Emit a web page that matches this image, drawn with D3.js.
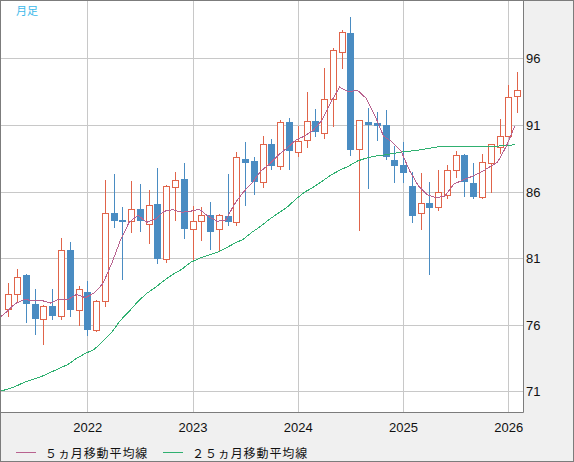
<!DOCTYPE html>
<html>
<head>
<meta charset="utf-8">
<script src="https://cdn.jsdelivr.net/npm/d3@7"></script>
<style>
  body { margin: 0; background: #f0f0f0; }
  svg { display: block; }
</style>
</head>
<body>
<div id="chart"></div>
<script>
// months from 2021-03 to 2026-02 (first one only feeds the moving averages)
var months = [
  "2021-03","2021-04","2021-05","2021-06","2021-07","2021-08","2021-09","2021-10","2021-11","2021-12",
  "2022-01","2022-02","2022-03","2022-04","2022-05","2022-06","2022-07","2022-08","2022-09","2022-10","2022-11","2022-12",
  "2023-01","2023-02","2023-03","2023-04","2023-05","2023-06","2023-07","2023-08","2023-09","2023-10","2023-11","2023-12",
  "2024-01","2024-02","2024-03","2024-04","2024-05","2024-06","2024-07","2024-08","2024-09","2024-10","2024-11","2024-12",
  "2025-01","2025-02","2025-03","2025-04","2025-05","2025-06","2025-07","2025-08","2025-09","2025-10","2025-11","2025-12",
  "2026-01","2026-02"
];

var open = [null,
  77.17, 78.33, 79.71, 77.58, 76.42, 77.43, 76.68, 81.64, 77.13,
  78.43, 75.62, 77.78, 84.39, 83.84, 83.77, 84.67, 83.59, 85.04, 80.93, 86.35, 86.92,
  83.22, 83.77, 84.2, 83.22, 84.14, 83.71, 88.43, 88.28, 86.75, 89.56, 87.92, 91.19,
  88.98, 89.86, 91.26, 90.36, 92.92, 96.45, 97.92, 89.16, 91.21, 91.14, 91.02, 88.35,
  87.98, 86.4, 84.35, 85.1, 84.8, 85.77, 87.65, 88.73, 86.62, 85.59, 88.11, 89.35,
  90.14, 93.14];
var high = [null,
  79.13, 80.16, 79.83, 78.71, 77.5, 78.65, 82.49, 82.19, 78.88,
  79.26, 77.85, 86.85, 87.3, 84.84, 86.8, 86.55, 86.15, 87.8, 86.47, 87.43, 88.11,
  84.92, 84.84, 85.2, 84.3, 87.3, 88.93, 89.71, 88.6, 90.16, 89.93, 91.36, 91.51,
  90.9, 93.49, 92.21, 95.25, 96.8, 98.13, 99.08, 91.4, 92.29, 91.98, 92.11, 89.41,
  89.68, 87.47, 87.4, 86.72, 87.65, 87.98, 89.05, 88.78, 88.11, 88.8, 89.6, 91.41,
  93.99, 94.99];
var low = [null,
  76.57, 77.62, 76.12, 75.25, 74.47, 76.32, 76.38, 76.57, 75.92,
  75.14, 75.44, 77.32, 83.26, 79.33, 82.89, 82.96, 82.09, 80.59, 80.63, 83.79, 82.41,
  80.89, 82.29, 81.59, 81.44, 83.39, 83.41, 84.92, 85.72, 86.27, 87.6, 87.6, 87.6,
  88.6, 89.23, 90.11, 89.91, 90.81, 95.22, 88.65, 83.04, 86.17, 89.8, 88.35, 86.65,
  86.65, 83.64, 83.14, 79.76, 84.54, 85.4, 86.98, 85.55, 85.4, 85.4, 85.85, 88.8,
  90.1, 91.86];
var close = [null,
  78.28, 79.58, 77.58, 76.42, 77.43, 76.62, 81.64, 77.13, 78.71,
  75.62, 77.8, 84.35, 83.79, 83.71, 84.65, 83.79, 85.02, 80.93, 86.38, 86.9, 83.19,
  83.77, 84.2, 82.96, 84.24, 83.74, 88.56, 88.15, 86.72, 89.53, 87.92, 91.19, 89.05,
  89.8, 91.26, 90.48, 92.92, 96.6, 97.95, 89.11, 91.36, 90.98, 90.89, 88.6, 87.92,
  87.4, 84.17, 85.1, 84.77, 85.95, 87.65, 88.71, 86.68, 85.59, 88.18, 89.53, 90.14,
  93.11, 93.62];

// ５ヵ月移動平均線
var ma5 = [76.4,
  76.95, 77.58, 77.88, 77.83, 77.83, 77.62, 77.92, 77.88, 78.28,
  78.03, 78.37, 79.08, 80.58, 82.34, 83.69, 84.22, 83.69, 83.92, 84.52, 84.63, 84.44,
  84.52, 84.67, 84.14, 83.77, 83.84, 85.04, 85.95, 86.62, 87.53, 88.05, 88.73, 89.26,
  89.86, 90.16, 90.61, 91.36, 92.71, 93.84, 93.47, 93.62, 93.01, 91.74, 90.16, 89.71,
  89.03, 87.53, 86.4, 85.76, 85.53, 85.65, 86.55, 86.85, 87.11, 87.4, 87.8, 88.2,
  89.4, 90.95];
// ２５ヵ月移動平均線
var ma25 = [70.98,
  71.13, 71.36, 71.66, 71.89, 72.11, 72.41, 72.71, 73.01, 73.47,
  73.84, 74.14, 74.74, 75.42, 76.32, 77.0, 77.75, 78.35, 78.8, 79.33, 79.78, 80.16,
  80.68, 80.98, 81.21, 81.43, 81.74, 82.11, 82.41, 82.94, 83.39, 83.92, 84.37, 84.82,
  85.42, 85.95, 86.32, 86.77, 87.23, 87.6, 87.9, 88.28, 88.5, 88.65, 88.73, 88.84,
  88.96, 89.03, 89.11, 89.22, 89.33, 89.41, 89.41, 89.37, 89.35, 89.35, 89.37, 89.41,
  89.44, 89.52];

var yTicks = [71, 76, 81, 86, 91, 96];
var yearTicks = ["2022", "2023", "2024", "2025", "2026"];
var legendLabels = ["５ヵ月移動平均線", "２５ヵ月移動平均線"];

var width = 574, height = 462,
    plot = {left: 1, top: 1, right: 523, bottom: 412};

var upColor = "#e0644a", downColor = "#4a8cc2",
    ma5Color = "#b8628f", ma25Color = "#2fb070",
    gridColor = "#c8c8c8", frameColor = "#7c7c7c";

function monthIndex(s) {
  var p = s.split("-");
  return (+p[0]) * 12 + (+p[1] - 1);
}

var x = d3.scaleLinear()
    .domain([2022 * 12, 2026 * 12])
    .range([87.3, 508.3]);

var y = d3.scaleLinear()
    .domain([71, 96])
    .range([391.3, 58.3]);

var data = months.map(function(m, i) {
  return {m: monthIndex(m), o: open[i], h: high[i], l: low[i], c: close[i], ma5: ma5[i], ma25: ma25[i]};
});

var svg = d3.select("#chart").append("svg")
    .attr("width", width)
    .attr("height", height);

svg.append("rect")
    .attr("x", 0.5).attr("y", 0.5)
    .attr("width", width - 1).attr("height", height - 1)
    .attr("fill", "#f0f0f0")
    .attr("stroke", frameColor);

svg.append("defs").append("clipPath")
    .attr("id", "clip")
    .append("rect")
    .attr("x", plot.left).attr("y", plot.top)
    .attr("width", plot.right - plot.left).attr("height", plot.bottom - plot.top);

svg.append("rect")
    .attr("x", plot.left).attr("y", plot.top)
    .attr("width", plot.right - plot.left).attr("height", plot.bottom - plot.top)
    .attr("fill", "#fff");

var g = svg.append("g")
    .attr("clip-path", "url(#clip)")
    .style("shape-rendering", "crispEdges");

// grid
g.selectAll(".hgrid")
    .data(yTicks)
    .enter().append("line")
    .attr("x1", plot.left).attr("x2", plot.right)
    .attr("y1", function(d) { return Math.round(y(d)) + 0.5; })
    .attr("y2", function(d) { return Math.round(y(d)) + 0.5; })
    .attr("stroke", gridColor);

g.selectAll(".vgrid")
    .data(yearTicks)
    .enter().append("line")
    .attr("y1", plot.top).attr("y2", plot.bottom)
    .attr("x1", function(d) { return Math.round(x(+d * 12)) + 0.5; })
    .attr("x2", function(d) { return Math.round(x(+d * 12)) + 0.5; })
    .attr("stroke", gridColor);

// candles
var candles = data.filter(function(d) { return d.o != null; });

var cg = g.selectAll(".candle")
    .data(candles)
    .enter().append("g")
    .attr("class", "candle");

cg.append("line")
    .attr("x1", function(d) { return Math.round(x(d.m)) + 0.5; })
    .attr("x2", function(d) { return Math.round(x(d.m)) + 0.5; })
    .attr("y1", function(d) { return Math.round(y(d.h)); })
    .attr("y2", function(d) { return Math.round(y(d.l)); })
    .attr("stroke", function(d) { return d.c >= d.o ? upColor : downColor; });

cg.filter(function(d) { return d.c < d.o; })
    .append("rect")
    .attr("x", function(d) { return Math.round(x(d.m)) - 3; })
    .attr("width", 7)
    .attr("y", function(d) { return Math.round(y(d.o)); })
    .attr("height", function(d) { return Math.max(2, Math.round(y(d.c)) - Math.round(y(d.o))); })
    .attr("fill", downColor);

cg.filter(function(d) { return d.c >= d.o; })
    .append("rect")
    .attr("x", function(d) { return Math.round(x(d.m)) - 2.5; })
    .attr("width", 6)
    .attr("y", function(d) { return Math.round(y(d.c)) + 0.5; })
    .attr("height", function(d) { return Math.max(1, Math.round(y(d.o)) - Math.round(y(d.c))); })
    .attr("fill", "#fff")
    .attr("stroke", upColor);

// moving averages
var line5 = d3.line()
    .x(function(d) { return x(d.m) - 2; })
    .y(function(d) { return y(d.ma5); });
var line25 = d3.line()
    .x(function(d) { return x(d.m) - 2; })
    .y(function(d) { return y(d.ma25); });

g.append("path")
    .datum(data)
    .attr("d", line25)
    .attr("fill", "none")
    .attr("stroke", ma25Color)
    .attr("stroke-width", 1);

g.append("path")
    .datum(data)
    .attr("d", line5)
    .attr("fill", "none")
    .attr("stroke", ma5Color)
    .attr("stroke-width", 1);

// plot frame (right / bottom)
svg.append("path")
    .attr("d", "M" + (plot.right + 0.5) + ",0V" + (plot.bottom + 0.5) + "H0")
    .attr("fill", "none")
    .attr("stroke", frameColor);

// y labels
svg.selectAll(".ylab")
    .data(yTicks)
    .enter().append("text")
    .attr("x", plot.right + 3)
    .attr("y", function(d) { return y(d) + 5; })
    .attr("font-family", "Liberation Sans, Arial, sans-serif")
    .attr("font-size", "13px")
    .attr("fill", "#111")
    .text(function(d) { return d; });

// x labels
svg.selectAll(".xlab")
    .data(yearTicks)
    .enter().append("text")
    .attr("x", function(d) { return x(+d * 12) + 0.5; })
    .attr("y", 432)
    .attr("text-anchor", "middle")
    .attr("font-family", "Liberation Sans, Arial, sans-serif")
    .attr("font-size", "13px")
    .attr("fill", "#111")
    .text(function(d) { return d; });

// title tag
svg.append("text")
    .attr("x", 16)
    .attr("y", 15)
    .attr("font-family", "Noto Sans CJK JP, sans-serif")
    .attr("font-size", "11px")
    .attr("fill", "#3cb9ea")
    .text("月足");

// legend
var legend = svg.selectAll(".legend")
    .data([{label: legendLabels[0], color: ma5Color, x: 16}, {label: legendLabels[1], color: ma25Color, x: 163}])
    .enter().append("g")
    .attr("transform", function(d) { return "translate(" + d.x + ",453)"; });

legend.append("line")
    .attr("x1", 0).attr("x2", 20)
    .attr("y1", -0.5).attr("y2", -0.5)
    .attr("stroke", function(d) { return d.color; })
    .style("shape-rendering", "crispEdges");

legend.append("text")
    .attr("x", 29)
    .attr("y", 4.5)
    .attr("font-family", "Noto Sans CJK JP, sans-serif")
    .attr("font-size", "12px")
    .attr("letter-spacing", "0.9px")
    .attr("fill", "#111")
    .text(function(d) { return d.label; });
</script>
</body>
</html>
